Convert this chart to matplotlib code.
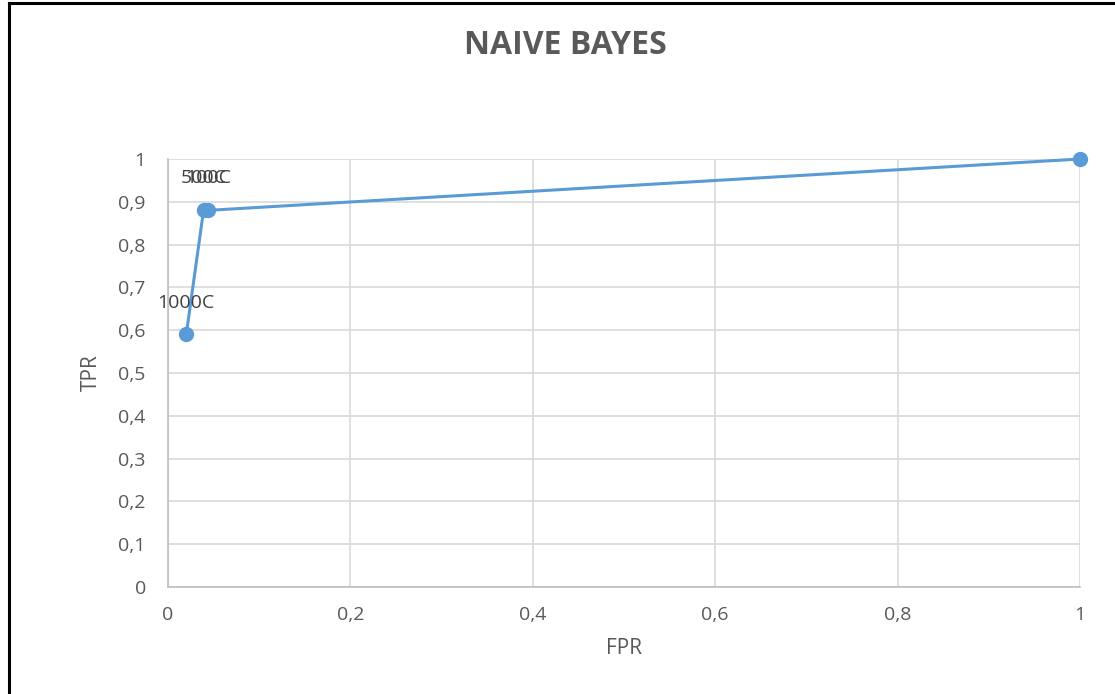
import matplotlib
matplotlib.use("Agg")
import matplotlib.pyplot as plt
from matplotlib.ticker import MultipleLocator, FuncFormatter
from matplotlib.lines import Line2D

fpr = [0.02, 0.039, 0.044, 1.0]
tpr = [0.59, 0.88, 0.88, 1.0]
point_labels = ["1000C", "500C", "100C", ""]

W, H = 1115, 694
fig = plt.figure(figsize=(W / 100, H / 100), dpi=100)
fig.patch.set_facecolor("white")
plt.rcParams["font.family"] = ["Open Sans", "DejaVu Sans"]

ax = fig.add_axes([168 / W, (H - 587) / H, (1080 - 168) / W, (587 - 159) / H])
ax.set_xlim(0, 1)
ax.set_ylim(0, 1)
ax.xaxis.set_major_locator(MultipleLocator(0.2))
ax.yaxis.set_major_locator(MultipleLocator(0.1))
comma = FuncFormatter(lambda v, p: ("%g" % round(v, 2)).replace(".", ","))
ax.xaxis.set_major_formatter(comma)
ax.yaxis.set_major_formatter(comma)
ax.grid(True, color="#d9d9d9", linewidth=1.2)
ax.set_axisbelow(True)
for s in ["top", "right"]:
    ax.spines[s].set_visible(False)
for s in ["left", "bottom"]:
    ax.spines[s].set_color("#bfbfbf")
    ax.spines[s].set_linewidth(1.2)
ax.tick_params(length=0, labelsize=14, labelcolor="#595959", pad=14)
ax.tick_params(axis="y", pad=16)

ax.plot(fpr, tpr, color="#5b9bd5", linewidth=2.2, marker="o",
        markersize=10, clip_on=False, zorder=3)
for x, y, t in zip(fpr, tpr, point_labels):
    if t:
        ax.annotate(t, (x, y), xytext=(0, 23), textcoords="offset points",
                    ha="center", va="center", fontsize=14, color="#404040")

ax.set_xlabel("FPR", fontsize=15, color="#595959", labelpad=10)
ax.set_ylabel("TPR", fontsize=15, color="#595959", labelpad=12)
fig.text(565 / W, 1 - 46 / H, "NAIVE BAYES", ha="center", va="center",
         fontsize=23, fontweight="bold", color="#595959")

# frame around the figure
fig.add_artist(Line2D([9 / W, 9 / W], [0, 1 - 3 / H], transform=fig.transFigure,
                      color="black", linewidth=2.2))
fig.add_artist(Line2D([9 / W, 1], [1 - 3 / H, 1 - 3 / H], transform=fig.transFigure,
                      color="black", linewidth=2.2))

fig.savefig("out.png", dpi=100)
